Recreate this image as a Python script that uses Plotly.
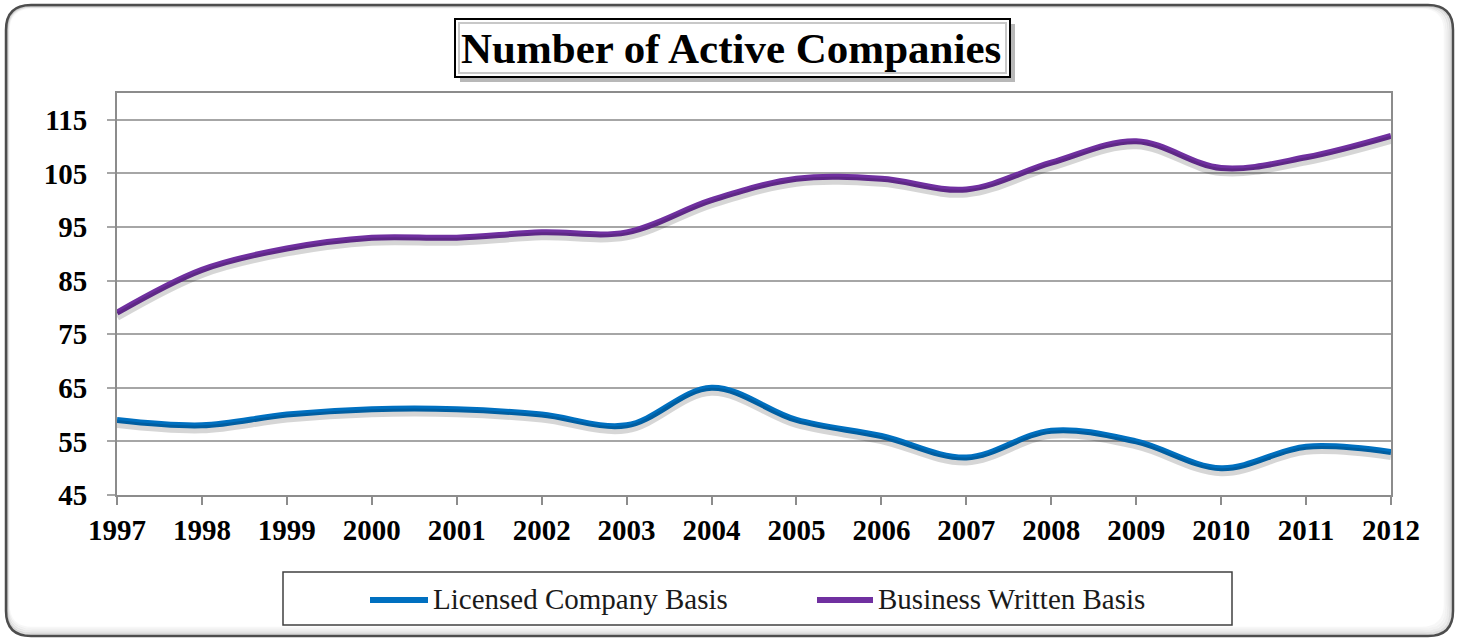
import plotly.graph_objects as go

# Survey years and active-company counts per reporting basis
years = [1997, 1998, 1999, 2000, 2001, 2002, 2003, 2004,
         2005, 2006, 2007, 2008, 2009, 2010, 2011, 2012]
licensed_basis = [59, 58, 60, 61, 61, 60, 58, 65, 59, 56, 52, 57, 55, 50, 54, 53]
business_written_basis = [79, 87, 91, 93, 93, 94, 94, 100, 104, 104, 102, 107, 111, 106, 108, 112]
series_names = ["Licensed Company Basis", "Business Written Basis"]
y_ticks = [45, 55, 65, 75, 85, 95, 105, 115]
chart_title = "Number of Active Companies"

BLUE = "#0070C0"
PURPLE = "#7030A0"

W, H = 1465, 640
L, R, T, B = 117, 74, 93, 145          # plot-area margins in pixels
PW, PH = W - L - R, H - T - B
Y_MIN, Y_MAX = 45, 120
SHADOW_PX = 4                           # drop-shadow offset under the lines


def px_x(px):
    return (px - L) / PW


def px_y(py):
    return (H - B - py) / PH


def rounded_rect(x0, y0, x1, y1, r):
    pts = [
        f"M {px_x(x0 + r)},{px_y(y0)}",
        f"L {px_x(x1 - r)},{px_y(y0)}",
        f"Q {px_x(x1)},{px_y(y0)} {px_x(x1)},{px_y(y0 + r)}",
        f"L {px_x(x1)},{px_y(y1 - r)}",
        f"Q {px_x(x1)},{px_y(y1)} {px_x(x1 - r)},{px_y(y1)}",
        f"L {px_x(x0 + r)},{px_y(y1)}",
        f"Q {px_x(x0)},{px_y(y1)} {px_x(x0)},{px_y(y1 - r)}",
        f"L {px_x(x0)},{px_y(y0 + r)}",
        f"Q {px_x(x0)},{px_y(y0)} {px_x(x0 + r)},{px_y(y0)}",
        "Z",
    ]
    return " ".join(pts)


def rect(x0, y0, x1, y1, **kw):
    return dict(type="rect", xref="paper", yref="paper",
                x0=px_x(x0), x1=px_x(x1), y0=px_y(y1), y1=px_y(y0), **kw)


fig = go.Figure()

# soft shadows drawn on a shifted overlay axis
shift = SHADOW_PX * (Y_MAX - Y_MIN) / PH
for vals in (licensed_basis, business_written_basis):
    fig.add_trace(go.Scatter(
        x=years, y=vals, mode="lines", yaxis="y2",
        line=dict(color="rgba(0,0,0,0.16)", width=8, shape="spline"),
        hoverinfo="skip", showlegend=False))

for name, vals, color in zip(series_names,
                             [licensed_basis, business_written_basis],
                             [BLUE, PURPLE]):
    fig.add_trace(go.Scatter(
        x=years, y=vals, mode="lines", name=name,
        line=dict(color=color, width=6, shape="spline"),
        showlegend=False))

shapes = []

# outer rounded frame with a soft inner shade
for inset, alpha in [(8, 0.03), (6, 0.05), (4, 0.08), (2, 0.13)]:
    shapes.append(dict(type="path", xref="paper", yref="paper",
                       path=rounded_rect(6 + inset * 0.3, 5 + inset * 0.3,
                                         1453 - inset, 636 - inset, 24),
                       line=dict(color=f"rgba(0,0,0,{alpha})", width=2.5),
                       layer="above"))
shapes.append(dict(type="path", xref="paper", yref="paper",
                   path=rounded_rect(6, 5, 1453, 636, 25),
                   line=dict(color="#4d4d4d", width=2.5), layer="above"))

# title box with drop shadow
shapes.append(rect(460, 24, 1015, 82, fillcolor="rgba(0,0,0,0.28)",
                   line=dict(width=0), layer="above"))
shapes.append(rect(455, 19, 1010, 77, fillcolor="white",
                   line=dict(color="black", width=2), layer="above"))
shapes.append(rect(459, 23, 1006, 73, fillcolor="rgba(0,0,0,0)",
                   line=dict(color="#c8c8c8", width=2), layer="above"))

# legend frame and samples
shapes.append(rect(283, 572, 1232, 625, fillcolor="white",
                   line=dict(color="#404040", width=1.5), layer="above"))
legend_items = [(370, 428, 431), (817, 873, 876)]
annotations = []
for (lx0, lx1, tx), name, color in zip(legend_items, series_names, [BLUE, PURPLE]):
    shapes.append(dict(type="line", xref="paper", yref="paper",
                       x0=px_x(lx0), x1=px_x(lx1), y0=px_y(600), y1=px_y(600),
                       line=dict(color=color, width=6), layer="above"))
    annotations.append(dict(xref="paper", yref="paper", x=px_x(tx), y=px_y(599),
                            xanchor="left", yanchor="middle", showarrow=False,
                            text=name,
                            font=dict(family="Liberation Serif", size=29, color="#1a1a1a")))

annotations.append(dict(xref="paper", yref="paper", x=px_x(731), y=px_y(48),
                        xanchor="center", yanchor="middle", showarrow=False,
                        text=f"<b>{chart_title}</b>",
                        font=dict(family="Liberation Serif", size=43, color="black")))

tick_font = dict(family="Liberation Serif", size=29, color="black", weight="bold")

fig.update_layout(
    width=W, height=H,
    margin=dict(l=L, r=R, t=T, b=B, pad=0),
    paper_bgcolor="white", plot_bgcolor="white",
    showlegend=False,
    shapes=shapes,
    annotations=annotations,
    xaxis=dict(range=[years[0], years[-1]], tickmode="array", tickvals=years,
               ticktext=[str(y) for y in years],
               showgrid=False, zeroline=False,
               showline=True, linecolor="#8c8c8c", linewidth=2, mirror=True,
               ticks="outside", ticklen=8, tickwidth=1.5, tickcolor="#8c8c8c",
               tickfont=tick_font, ticklabelstandoff=0),
    yaxis=dict(range=[Y_MIN, Y_MAX], tickmode="array", tickvals=y_ticks,
               showgrid=True, gridcolor="#a6a6a6", gridwidth=1.5, zeroline=False,
               showline=True, linecolor="#8c8c8c", linewidth=2, mirror=True,
               ticks="outside", ticklen=8, tickwidth=1.5, tickcolor="#a6a6a6",
               tickfont=tick_font, ticklabelstandoff=14),
    yaxis2=dict(range=[Y_MIN + shift, Y_MAX + shift], overlaying="y",
                visible=False, showgrid=False, zeroline=False),
)

fig.write_html("out.html")
